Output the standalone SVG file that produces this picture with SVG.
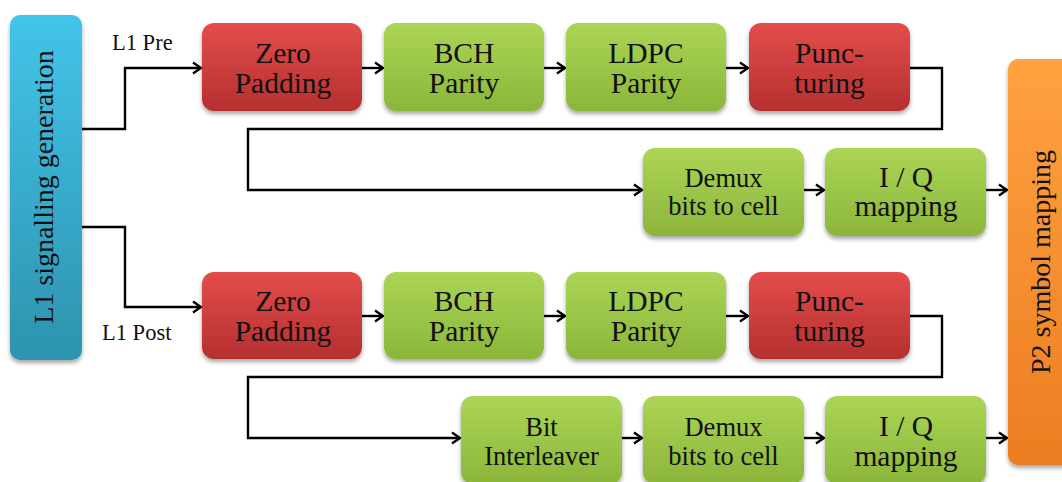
<svg xmlns="http://www.w3.org/2000/svg" width="1062" height="482" viewBox="0 0 1062 482">
<defs>
<linearGradient id="gRed" x1="0" y1="0" x2="0" y2="1"><stop offset="0" stop-color="#e34d4b"/><stop offset="1" stop-color="#b52f2f"/></linearGradient>
<linearGradient id="gGreen" x1="0" y1="0" x2="0" y2="1"><stop offset="0" stop-color="#acd556"/><stop offset="1" stop-color="#8bb63a"/></linearGradient>
<linearGradient id="gBlue" x1="0" y1="0" x2="0" y2="1"><stop offset="0" stop-color="#43c4ea"/><stop offset="1" stop-color="#2d93ae"/></linearGradient>
<linearGradient id="gOrange" x1="0" y1="0" x2="0" y2="1"><stop offset="0" stop-color="#ffa23f"/><stop offset="1" stop-color="#ec7d22"/></linearGradient>
<filter id="sh" x="-10%" y="-10%" width="120%" height="130%"><feDropShadow dx="0" dy="3" stdDeviation="2" flood-color="#000" flood-opacity="0.35"/></filter>
<marker id="arr" markerUnits="userSpaceOnUse" markerWidth="12" markerHeight="14" viewBox="0 0 12 14" refX="10" refY="7" orient="auto"><path d="M2,1.5 L10,7 L2,12.5" fill="none" stroke="#000" stroke-width="2.4"/></marker>
</defs>
<style>
.box{filter:url(#sh);}
.red{fill:url(#gRed);}
.green{fill:url(#gGreen);}
.blue{fill:url(#gBlue);}
.orange{fill:url(#gOrange);}
text{font-family:'Liberation Serif','DejaVu Serif',serif;fill:#111;}
.t{font-size:29.5px;text-anchor:middle;}
.s{font-size:26.5px;text-anchor:middle;}
.lab{font-size:22.5px;}
.big{font-size:28px;text-anchor:middle;}
.ca{fill:none;stroke:#000;stroke-width:2.4;marker-end:url(#arr);}
</style>
<rect width="1062" height="482" fill="#fff"/>

<g id="connectors">
<path class="ca" d="M82,129 H125 V68 H201"/>
<path class="ca" d="M82,227 H125 V307 H201"/>
<path class="ca" d="M362,68 H383"/>
<path class="ca" d="M544,68 H565"/>
<path class="ca" d="M726,68 H748"/>
<path class="ca" d="M910,68 H942 V129 H248 V190 H642"/>
<path class="ca" d="M804,190 H824"/>
<path class="ca" d="M986,190 H1007"/>
<path class="ca" d="M362,316 H383"/>
<path class="ca" d="M544,316 H565"/>
<path class="ca" d="M726,316 H748"/>
<path class="ca" d="M910,316 H942 V377 H248 V438 H460"/>
<path class="ca" d="M622,438 H642"/>
<path class="ca" d="M804,438 H824"/>
<path class="ca" d="M986,438 H1007"/>
<text class="lab" x="112" y="50">L1 Pre</text>
<text class="lab" x="102" y="340">L1 Post</text>
</g>

<g id="l1gen">
<rect class="box blue" x="10" y="15" width="72" height="345" rx="10"/>
<text class="big" transform="translate(53,187) rotate(-90)">L1 signalling generation</text>
</g>
<g id="p2map">
<rect class="box orange" x="1008" y="59" width="72" height="406" rx="10"/>
<text class="big" transform="translate(1050,262) rotate(-90)">P2 symbol mapping</text>
</g>

<g id="zp1"><rect class="box red" x="202" y="23" width="160" height="88" rx="12"/><text class="t" x="283" y="63">Zero</text><text class="t" x="283" y="93">Padding</text></g>
<g id="bch1"><rect class="box green" x="384" y="23" width="160" height="88" rx="12"/><text class="t" x="464" y="63">BCH</text><text class="t" x="464" y="93">Parity</text></g>
<g id="ldpc1"><rect class="box green" x="566" y="23" width="160" height="88" rx="12"/><text class="t" x="646" y="63">LDPC</text><text class="t" x="646" y="93">Parity</text></g>
<g id="punc1"><rect class="box red" x="749" y="23" width="161" height="88" rx="12"/><text class="t" x="829.5" y="63">Punc-</text><text class="t" x="829.5" y="93">turing</text></g>
<g id="demux1"><rect class="box green" x="643" y="148" width="161" height="88" rx="12"/><text class="s" x="723.5" y="187">Demux</text><text class="s" x="723.5" y="215">bits to cell</text></g>
<g id="iq1"><rect class="box green" x="825" y="148" width="161" height="88" rx="12"/><text class="t" x="906" y="187">I / Q</text><text class="t" x="906" y="216">mapping</text></g>

<g id="zp2"><rect class="box red" x="202" y="272" width="160" height="87" rx="12"/><text class="t" x="283" y="311">Zero</text><text class="t" x="283" y="341">Padding</text></g>
<g id="bch2"><rect class="box green" x="384" y="272" width="160" height="87" rx="12"/><text class="t" x="464" y="311">BCH</text><text class="t" x="464" y="341">Parity</text></g>
<g id="ldpc2"><rect class="box green" x="566" y="272" width="160" height="87" rx="12"/><text class="t" x="646" y="311">LDPC</text><text class="t" x="646" y="341">Parity</text></g>
<g id="punc2"><rect class="box red" x="749" y="272" width="161" height="87" rx="12"/><text class="t" x="829.5" y="311">Punc-</text><text class="t" x="829.5" y="341">turing</text></g>
<g id="bitil"><rect class="box green" x="461" y="396" width="161" height="88" rx="12"/><text class="s" x="541.5" y="436">Bit</text><text class="s" x="541.5" y="465">Interleaver</text></g>
<g id="demux2"><rect class="box green" x="643" y="396" width="161" height="88" rx="12"/><text class="s" x="723.5" y="436">Demux</text><text class="s" x="723.5" y="465">bits to cell</text></g>
<g id="iq2"><rect class="box green" x="825" y="396" width="161" height="88" rx="12"/><text class="t" x="906" y="436">I / Q</text><text class="t" x="906" y="466">mapping</text></g>
</svg>
